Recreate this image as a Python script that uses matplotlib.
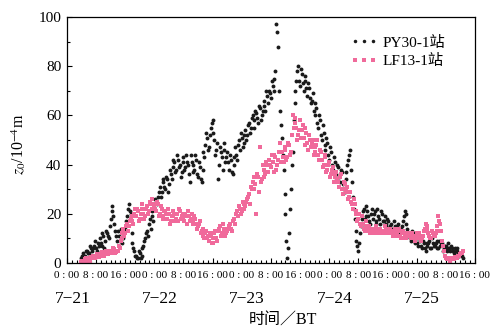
import numpy as np
import matplotlib
matplotlib.use('Agg')
import matplotlib.pyplot as plt
from matplotlib.ticker import MultipleLocator, AutoMinorLocator, FixedLocator
from matplotlib.transforms import blended_transform_factory

plt.rcParams['font.family'] = ['Liberation Serif', 'Noto Sans CJK SC']
plt.rcParams['mathtext.fontset'] = 'stix'

# hours since 7-21 0:00; readings every half hour, plus a second set
# read at the quarter hours (the other side of the scatter cloud)
py_start = 4.0
py_vals = [
    2, 4, 3, 5, 4, 6, 5, 7, 6, 8,
    10, 7, 11, 9, 12, 10, 18, 23, 16, 11,
    13, 9, 12, 10, 14, 19, 24, 20, 8, 5,
    3, 2, 4, 3, 7, 10, 13, 16, 14, 19,
    22, 25, 27, 31, 29, 33, 30, 34, 32, 36,
    39, 41, 38, 42, 40, 37, 43, 39, 41, 36,
    44, 40, 38, 42, 35, 39, 33, 45, 48, 51,
    47, 55, 58, 50, 46, 34, 47, 43, 49, 41,
    45, 38, 42, 36, 40, 44, 48, 46, 51, 49,
    54, 52, 57, 55, 60, 58, 61, 57, 63, 60,
    66, 62, 68, 70, 67, 72, 75, 97, 88, 62,
    51, 38, 20, 2, 12, 30, 45, 65, 74, 80,
    72, 77, 70, 74, 68, 71, 65, 69, 60, 63,
    55, 58, 50, 53, 46, 49, 42, 45, 38, 41,
    36, 39, 33, 37, 30, 34, 40, 44, 38, 27,
    18, 9, 5, 12, 18, 22, 19, 21, 17, 20,
    18, 21, 17, 19, 16, 20, 17, 15, 18, 14,
    16, 13, 15, 14, 16, 13, 15, 19, 20, 14,
    11, 9, 12, 8, 10, 7, 9, 6, 8, 5,
    7, 9, 6, 8, 7, 9, 6, 7, 8, 6,
    7, 5, 6, 7, 5, 6, 5, 4, 4, 3,
]
py_vals_b = [
    3, 1, 5, 4, 7, 3, 6, 9, 5, 7,
    8, 12, 6, 13, 11, 15, 21, 19, 13, 9,
    11, 14, 8, 12, 17, 22, 21, 12, 6, 3,
    2, 5, 2, 6, 9, 12, 11, 18, 21, 17,
    26, 24, 29, 27, 34, 31, 35, 29, 38, 34,
    42, 37, 44, 39, 35, 41, 38, 44, 40, 33,
    41, 37, 44, 36, 41, 34, 38, 43, 53, 46,
    52, 57, 53, 44, 49, 40, 45, 38, 46, 43,
    41, 44, 37, 43, 47, 42, 50, 53, 47, 52,
    50, 56, 53, 59, 55, 62, 59, 64, 58, 62,
    64, 70, 65, 69, 74, 70, 78, 94, 70, 56,
    44, 28, 9, 6, 22, 40, 58, 70, 78, 74,
    79, 73, 76, 71, 73, 67, 66, 62, 65, 57,
    60, 52, 56, 48, 51, 44, 47, 40, 43, 35,
    40, 35, 38, 32, 29, 37, 42, 46, 33, 22,
    13, 7, 8, 15, 21, 18, 23, 19, 16, 22,
    20, 16, 22, 18, 21, 17, 19, 16, 17, 15,
    14, 17, 13, 15, 12, 14, 17, 21, 16, 12,
    10, 13, 9, 11, 8, 10, 7, 9, 6, 8,
    8, 6, 10, 7, 8, 6, 9, 8, 5, 7,
    6, 8, 5, 6, 4, 5, 6, 3, 4, 2,
]

lf_start = 4.0
lf_vals = [
    0.5, 1, 1.5, 1, 2, 2.5, 2, 3, 2.5, 3,
    3.5, 3, 4, 3.5, 4.5, 4, 5, 4, 5.5, 4.5,
    5, 6, 10, 14, 12, 16, 15, 18, 17, 20,
    19, 21, 18, 22, 20, 19, 23, 21, 24, 26,
    23, 21, 24, 20, 22, 19, 21, 18, 20, 17,
    19, 20, 18, 17, 21, 19, 18, 20, 16, 19,
    18, 17, 19, 16, 15, 17, 13, 11, 12, 10,
    9, 11, 8, 12, 10, 13, 15, 12, 14, 11,
    13, 15, 14, 17, 18, 20, 19, 22, 21, 24,
    23, 26, 28, 31, 33, 30, 20, 35, 47, 34,
    38, 36, 40, 42, 39, 41, 44, 38, 42, 49,
    45, 41, 46, 43, 48, 45, 60, 57, 55, 52,
    58, 54, 51, 55, 49, 52, 47, 50, 45, 48,
    44, 46, 42, 40, 43, 38, 41, 36, 39, 35,
    37, 33, 35, 30, 33, 29, 31, 27, 25, 22,
    24, 20, 18, 16, 19, 14, 17, 13, 15, 12,
    14, 13, 15, 12, 14, 13, 12, 14, 13, 12,
    13, 11, 14, 12, 13, 11, 12, 10, 12, 11,
    12, 10, 11, 9, 12, 10, 11, 10, 13, 16,
    14, 11, 10, 12, 11, 13, 19, 16, 9, 5,
    2, 1.5, 2, 1.5, 2, 2.5, 2, 3, 3.5, 4,
]
lf_vals_b = [
    1, 0.5, 2, 1.5, 1, 2, 3, 2, 3.5, 2.5,
    3, 4.5, 3, 5, 3.5, 5, 4.5, 6, 4, 5,
    7, 9, 12, 11, 15, 13, 17, 19, 16, 22,
    22, 17, 20, 24, 18, 22, 20, 25, 22, 24,
    22, 25, 19, 23, 18, 21, 20, 22, 16, 19,
    21, 17, 20, 22, 18, 20, 17, 19, 21, 17,
    20, 16, 18, 14, 16, 12, 14, 10, 13, 11,
    12, 8, 10, 13, 9, 14, 11, 16, 13, 12,
    14, 16, 13, 18, 16, 21, 23, 20, 25, 22,
    25, 27, 24, 30, 35, 32, 36, 29, 33, 40,
    35, 41, 37, 40, 44, 37, 43, 40, 45, 41,
    43, 47, 42, 49, 44, 52, 55, 59, 50, 54,
    51, 56, 48, 53, 46, 50, 49, 44, 47, 50,
    42, 45, 39, 44, 37, 40, 35, 38, 33, 36,
    34, 31, 36, 28, 32, 30, 26, 29, 24, 26,
    21, 17, 20, 15, 16, 13, 15, 14, 12, 14,
    12, 14, 13, 14, 12, 13, 15, 12, 13, 14,
    12, 13, 11, 12, 14, 10, 13, 11, 10, 12,
    11, 12, 10, 11, 10, 12, 9, 11, 14, 15,
    12, 10, 13, 11, 12, 15, 17, 13, 7, 3,
    1.5, 2, 1, 2, 1.5, 2, 2.5, 3, 4, 5,
]

days = ['7\u221221', '7\u221222', '7\u221223', '7\u221224', '7\u221225']
hour_labels = ['0 : 00', '8 : 00', '16 : 00']

py_t = py_start + 0.5 * np.arange(len(py_vals))
py_tb = py_start + 0.25 + 0.5 * np.arange(len(py_vals_b))
lf_t = lf_start + 0.5 * np.arange(len(lf_vals))
lf_tb = lf_start + 0.25 + 0.5 * np.arange(len(lf_vals_b))

fig = plt.figure(figsize=(4.92, 3.29), dpi=100)
ax = fig.add_axes([0.136, 0.2006, 0.829, 0.7474])

ax.plot(np.concatenate([py_t, py_tb]), py_vals + py_vals_b, 'o', color='#1a1a1a',
        ms=2.8, mew=0, label='PY30-1站')
ax.plot(np.concatenate([lf_t, lf_tb]), lf_vals + lf_vals_b, 's', color='#f06a9b',
        ms=2.7, mew=0, label='LF13-1站')

ax.set_xlim(0, 112)
ax.set_ylim(0, 100)
xt = np.arange(0, 113, 8)
ax.xaxis.set_major_locator(FixedLocator(xt))
ax.set_xticklabels([hour_labels[(int(t) % 24) // 8] for t in xt], fontsize=8)
ax.xaxis.set_minor_locator(AutoMinorLocator(6))
ax.yaxis.set_major_locator(MultipleLocator(20))
ax.yaxis.set_minor_locator(MultipleLocator(10))
ax.tick_params(axis='y', labelsize=11, pad=4)
ax.tick_params(which='both', direction='in', top=False, right=False)
ax.tick_params(which='major', length=3.5, width=0.8)
ax.tick_params(which='minor', length=2, width=0.8)
ax.tick_params(axis='x', pad=6)
for s in ax.spines.values():
    s.set_linewidth(0.9)

tr = blended_transform_factory(ax.transData, fig.transFigure)
for i, d in enumerate(days):
    ax.text(i * 24 + 1.5, 0.091, d, transform=tr, ha='center', va='center', fontsize=12.5)

fig.text(0.575, 0.026, '时间／BT', ha='center', va='center', fontsize=11.5)
fig.text(0.037, 0.56, r'$z_0$/10$^{-4}$m', rotation=90, ha='center', va='center', fontsize=11.5)

ax.legend(loc='upper left', bbox_to_anchor=(0.70, 0.91), bbox_transform=fig.transFigure,
          frameon=False, numpoints=3, markerscale=0.9, fontsize=11,
          handlelength=1.8, handletextpad=0.3, labelspacing=0.3, borderaxespad=0)

fig.savefig('out.png', dpi=100)
